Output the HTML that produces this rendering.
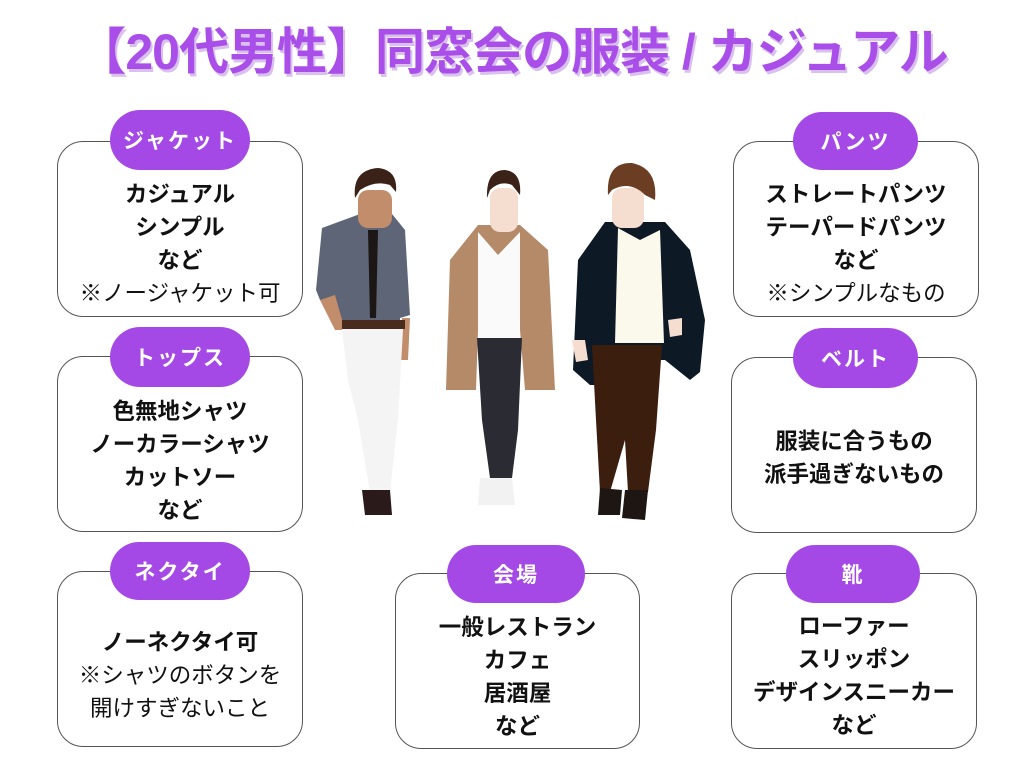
<!DOCTYPE html>
<html><head><meta charset="utf-8"><style>
body{margin:0;width:1024px;height:768px;background:#fff;position:relative;overflow:hidden;font-family:"Liberation Sans","Noto Sans CJK JP",sans-serif}
.title{position:absolute;left:0;width:1024px;top:12px;text-align:center;font-size:50px;font-weight:bold;color:#a94ee8;text-shadow:2px 3px 0 #d9c0ee;letter-spacing:-1px}
.box{position:absolute;border:1.5px solid #555;border-radius:26px;box-sizing:border-box;display:flex;flex-direction:column;justify-content:center;align-items:center;font-size:22.5px;line-height:33px;color:#111;text-align:center}
.b{font-weight:bold}
.pill{position:absolute;background:#a449e6;color:#fff;border-radius:30px;font-weight:bold;font-size:21px;display:flex;align-items:center;justify-content:center;letter-spacing:2px}
</style></head><body>
<div class="title">【20代男性】同窓会の服装 / カジュアル</div>

<div class="box" style="left:57px;top:141px;width:246px;height:176px;padding-top:30px"><div class="b">カジュアル</div><div class="b">シンプル</div><div class="b">など</div><div>※ノージャケット可</div></div>
<div class="pill" style="left:110px;top:110px;width:140px;height:60px">ジャケット</div>

<div class="box" style="left:57px;top:356px;width:246px;height:176px;padding-top:34px"><div class="b">色無地シャツ</div><div class="b">ノーカラーシャツ</div><div class="b">カットソー</div><div class="b">など</div></div>
<div class="pill" style="left:110px;top:327px;width:140px;height:60px">トップス</div>

<div class="box" style="left:57px;top:571px;width:246px;height:176px;padding-top:32px"><div class="b">ノーネクタイ可</div><div>※シャツのボタンを</div><div>開けすぎないこと</div></div>
<div class="pill" style="left:110px;top:542px;width:140px;height:58px">ネクタイ</div>

<div class="box" style="left:733px;top:141px;width:246px;height:176px;padding-top:30px"><div class="b">ストレートパンツ</div><div class="b">テーパードパンツ</div><div class="b">など</div><div>※シンプルなもの</div></div>
<div class="pill" style="left:793px;top:112px;width:125px;height:58px">パンツ</div>

<div class="box" style="left:731px;top:357px;width:246px;height:176px;padding-top:26px"><div class="b">服装に合うもの</div><div class="b">派手過ぎないもの</div></div>
<div class="pill" style="left:793px;top:328px;width:125px;height:60px">ベルト</div>

<div class="box" style="left:731px;top:573px;width:246px;height:176px;padding-top:30px"><div class="b">ローファー</div><div class="b">スリッポン</div><div class="b">デザインスニーカー</div><div class="b">など</div></div>
<div class="pill" style="left:786px;top:545px;width:134px;height:58px">靴</div>

<div class="box" style="left:395px;top:573px;width:245px;height:176px;padding-top:32px"><div class="b">一般レストラン</div><div class="b">カフェ</div><div class="b">居酒屋</div><div class="b">など</div></div>
<div class="pill" style="left:447px;top:545px;width:138px;height:58px">会場</div>

<svg style="position:absolute;left:0;top:0" width="1024" height="768">
<path d="M316 290 L322 228 L360 214 L392 214 L405 230 L410 315 L400 318 L400 328 L342 328 L338 320 L320 300Z" fill="#5d6577"/>
<path d="M320 300 L335 330 L345 330 L335 295Z" fill="#c28d6b"/>
<path d="M402 318 L410 318 L408 360 L400 360Z" fill="#c28d6b"/>
<rect x="358" y="190" width="34" height="38" rx="10" fill="#c28d6b"/>
<path d="M355 198 Q352 170 378 168 Q398 170 396 192 L390 185 Q375 180 360 190Z" fill="#3a2218"/>
<path d="M368 230 L378 230 L376 318 L370 318Z" fill="#1c1614"/>
<rect x="342" y="320" width="63" height="9" fill="#4a2c1f"/>
<path d="M342 329 L403 329 L398 420 L390 492 L370 492 L358 420 L348 380Z" fill="#f4f4f4"/>
<path d="M362 490 L390 490 L392 515 L365 515Z" fill="#2a1a1a"/>
<path d="M446 390 L450 260 L478 225 L520 225 L548 250 L555 390 L525 390 L520 330 L478 330 L476 390Z" fill="#b48a68"/>
<rect x="490" y="188" width="28" height="44" rx="10" fill="#f5ddd0"/>
<path d="M487 198 Q486 170 505 170 Q522 172 520 195 L512 185 Q500 180 490 190Z" fill="#3a2218"/>
<path d="M478 232 L498 255 L520 232 L520 340 L478 340Z" fill="#fafafa"/>
<path d="M477 338 L522 338 L518 430 L512 478 L490 478 L482 420Z" fill="#2a2b33"/>
<path d="M480 478 L512 478 L515 505 L478 505Z" fill="#f2f2f2"/>
<path d="M573 370 L578 260 L605 222 L665 222 L690 250 L705 320 L700 372 L690 380 L665 360 L660 360 L610 360 L598 385 L590 385 Z" fill="#0d1a26"/>
<rect x="612" y="188" width="32" height="40" rx="10" fill="#f5ddd0"/>
<path d="M608 195 Q606 162 632 163 Q658 168 655 200 L645 195 Q630 180 612 190Z" fill="#6b3e24"/>
<path d="M618 228 L640 240 L660 230 L664 343 L615 343Z" fill="#fbf8ec"/>
<path d="M592 345 L662 345 L656 430 L648 492 L628 492 L625 440 L610 492 L600 492 L596 420Z" fill="#3c1e0e"/>
<path d="M600 488 L622 490 L620 515 L598 515Z" fill="#1e1613"/>
<path d="M625 490 L648 490 L645 520 L622 518Z" fill="#1e1613"/>
<path d="M572 340 L585 340 L588 360 L576 362Z" fill="#f5ddd0"/>
<path d="M668 320 L682 318 L682 335 L670 337Z" fill="#f5ddd0"/>
</svg>
</body></html>
